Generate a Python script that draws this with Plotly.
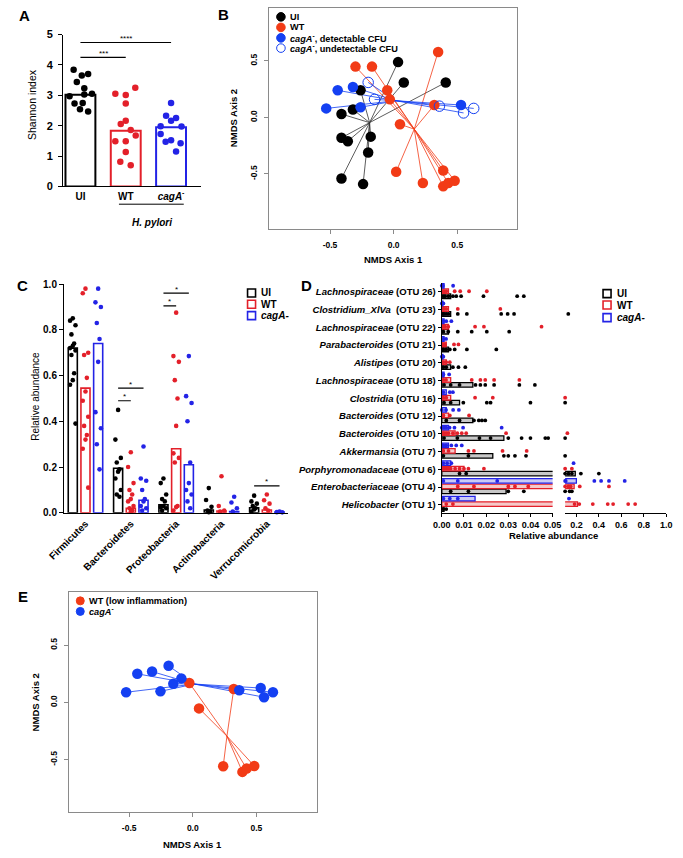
import plotly.graph_objects as go

W, H = 683, 858


def fx(px):
    return px / W


def fy(py):
    return 1 - py / H


FONT = "Liberation Sans, Arial, Helvetica, sans-serif"
K = "#000000"
RA = "#e3202a"
BA = "#2323e6"
RB = "#f23b16"
BB = "#1440f2"

# ---------------- Panel A: Shannon index ----------------
a_groups = ["UI", "WT", "cagA"]
a_ticklabels = ["UI", "WT", "<i>cagA</i><sup>-</sup>"]
a_means = [3.02, 1.83, 1.95]
a_ui = [3.84, 3.65, 3.70, 3.44, 3.23, 2.97, 3.05, 3.03, 2.73, 2.75, 2.54, 2.47]
a_wt = [3.05, 3.01, 3.25, 2.73, 2.16, 2.06, 1.86, 1.49, 1.49, 1.68, 1.13, 0.81, 0.70]
a_cag = [2.75, 2.33, 2.25, 2.16, 1.98, 1.97, 1.73, 1.52, 1.47, 1.42, 1.15]
a_sig = [("UI", "WT", 4.25, "***"), ("UI", "cagA", 4.74, "****")]
# dot scatter within each bar (category units)
a_jit = [
    [-0.15, 0.03, 0.17, -0.08, 0.085, -0.24, 0.255, 0.085, -0.13, 0.05, -0.01, 0.17],
    [-0.23, 0.0, 0.21, 0.0, 0.0, -0.11, 0.11, -0.23, 0.0, 0.22, 0.0, -0.12, 0.11],
    [0.0, -0.11, 0.11, 0.0, -0.23, 0.23, -0.23, 0.0, -0.12, 0.21, 0.11],
]

# ---------------- Panel B: NMDS (all groups) ----------------
b_ui_x = [0.035, 0.08, 0.41, -0.26, -0.41, -0.32, -0.41, -0.36, -0.18, -0.20, -0.41, -0.24]
b_ui_y = [0.49, 0.31, 0.31, 0.24, 0.03, 0.07, -0.18, -0.21, -0.17, -0.31, -0.54, -0.59]
b_wt_x = [0.35, -0.30, -0.17, -0.05, -0.03, 0.05, 0.32, 0.02, 0.23, 0.39, 0.39, 0.43, 0.48]
b_wt_y = [0.58, 0.45, 0.45, 0.24, 0.16, -0.06, 0.11, -0.48, -0.58, -0.47, -0.61, -0.58, -0.56]
b_cd_x = [-0.44, -0.32, -0.53, -0.26, 0.53]
b_cd_y = [0.24, 0.27, 0.08, 0.09, 0.11]
b_cu_x = [-0.20, -0.15, 0.36, 0.55, 0.63]
b_cu_y = [0.31, 0.16, 0.10, 0.04, 0.08]
nmds_ticks = [-0.5, 0.0, 0.5]
nmds_ticktext = ["-0.5", "0.0", "0.5"]

# ---------------- Panel C: phylum relative abundance ----------------
c_phyla = ["Firmicutes", "Bacteroidetes", "Proteobacteria", "Actinobacteria", "Verrucomicrobia"]
c_ui_mean = [0.72, 0.195, 0.035, 0.012, 0.022]
c_wt_mean = [0.545, 0.02, 0.28, 0.008, 0.012]
c_cag_mean = [0.74, 0.055, 0.21, 0.006, 0.003]
c_ui_pts = [
    [0.85, 0.84, 0.82, 0.78, 0.74, 0.73, 0.72, 0.71, 0.69, 0.61, 0.58, 0.56, 0.39],
    [0.45, 0.32, 0.24, 0.22, 0.19, 0.18, 0.15, 0.10, 0.08, 0.07],
    [0.15, 0.13, 0.08, 0.06, 0.05, 0.03, 0.025, 0.02, 0.01],
    [0.108, 0.056, 0.026, 0.01, 0.005, 0.003],
    [0.075, 0.05, 0.04, 0.03, 0.02, 0.015, 0.005],
]
c_wt_pts = [
    [0.98, 0.96, 0.70, 0.69, 0.59, 0.53, 0.49, 0.42, 0.38, 0.34, 0.32, 0.28, 0.11],
    [0.265, 0.20, 0.13, 0.10, 0.08, 0.06, 0.05, 0.03, 0.02, 0.01, 0.005],
    [0.875, 0.685, 0.66, 0.58, 0.50, 0.38, 0.26, 0.24, 0.22, 0.03, 0.025, 0.01],
    [0.16, 0.03, 0.01, 0.005],
    [0.08, 0.055, 0.04, 0.02, 0.01],
]
c_cag_pts = [
    [0.98, 0.92, 0.90, 0.83, 0.76, 0.66, 0.44, 0.37, 0.30, 0.19],
    [0.29, 0.15, 0.14, 0.10, 0.06, 0.05, 0.03, 0.02, 0.01],
    [0.685, 0.51, 0.48, 0.40, 0.22, 0.13, 0.10, 0.08, 0.05, 0.02],
    [0.07, 0.045, 0.02, 0.005],
    [0.005, 0.003, 0.002],
]
# (phylum index, group a, group b, height, label)
c_sig = [
    (1, "UI", "WT", 0.49, "*"),
    (1, "UI", "cagA", 0.545, "*"),
    (2, "UI", "WT", 0.905, "*"),
    (2, "UI", "cagA", 0.96, "*"),
    (4, "UI", "cagA", 0.118, "*"),
]

# ---------------- Panel D: OTU relative abundance ----------------
d_genus = ["Lachnospiraceae", "Clostridium_XlVa ", "Lachnospiraceae", "Parabacteroides",
           "Alistipes", "Lachnospiraceae", "Clostridia", "Bacteroides", "Bacteroides",
           "Akkermansia", "Porphyromonadaceae", "Enterobacteriaceae", "Helicobacter"]
d_otu = ["OTU 26", "OTU 23", "OTU 22", "OTU 21", "OTU 20", "OTU 18", "OTU 16",
         "OTU 12", "OTU 10", "OTU 7", "OTU 6", "OTU 4", "OTU 1"]
d_ui_mean = [0.004, 0.004, 0.003, 0.003, 0.004, 0.014, 0.008, 0.014, 0.028, 0.023, 0.19, 0.029, 0.001]
d_wt_mean = [0.003, 0.003, 0.003, 0.002, 0.002, 0.004, 0.004, 0.003, 0.006, 0.006, 0.010, 0.18, 0.21]
d_cag_mean = [0.001, 0.0005, 0.001, 0.001, 0.0005, 0.001, 0.002, 0.002, 0.003, 0.003, 0.004, 0.20, 0.015]
d_ui_pts = [
    [0.0007, 0.0015, 0.003, 0.005, 0.0065, 0.0087, 0.0188, 0.034, 0.037],
    [0.0005, 0.001, 0.002, 0.003, 0.0072, 0.0113, 0.0268, 0.0297, 0.0326, 0.128],
    [0.0007, 0.0029, 0.0072, 0.0135, 0.0203, 0.0304],
    [0.0007, 0.002, 0.0036, 0.0058, 0.0113, 0.0246],
    [0.0007, 0.002, 0.005, 0.0075, 0.0106],
    [0.001, 0.004, 0.008, 0.0152, 0.0174, 0.0196, 0.0236, 0.035, 0.042],
    [0.001, 0.004, 0.0097, 0.0203, 0.022, 0.040, 0.10],
    [0.002, 0.008, 0.0145, 0.0167, 0.0181, 0.0196],
    [0.001, 0.007, 0.017, 0.022, 0.030, 0.036, 0.040, 0.0467, 0.048, 0.10],
    [0.0007, 0.012, 0.028, 0.030, 0.033, 0.038, 0.10],
    [0.008, 0.011, 0.10, 0.13, 0.16, 0.24, 0.40],
    [0.004, 0.012, 0.030, 0.037, 0.10, 0.14, 0.16],
    [0.0007, 0.002],
]
d_wt_pts = [
    [0.0005, 0.001, 0.002, 0.0058, 0.0083, 0.0123, 0.0203],
    [0.0005, 0.001, 0.002, 0.0072, 0.0264],
    [0.0007, 0.0015, 0.0029, 0.015, 0.019, 0.045],
    [0.0007, 0.0014, 0.0055, 0.0075],
    [0.0007, 0.002, 0.0036],
    [0.0007, 0.0019, 0.0135, 0.0174, 0.0196, 0.0236, 0.035],
    [0.0007, 0.002, 0.015, 0.023, 0.10],
    [0.0007, 0.0036, 0.0123],
    [0.0005, 0.001, 0.002, 0.003, 0.005, 0.007, 0.009, 0.011, 0.029, 0.12],
    [0.0007, 0.003, 0.012, 0.0145, 0.0274, 0.0383],
    [0.0005, 0.001, 0.002, 0.003, 0.004, 0.006, 0.008, 0.010, 0.012, 0.019, 0.10, 0.16],
    [0.0072, 0.0145, 0.030, 0.033, 0.039, 0.10, 0.13, 0.15, 0.23, 0.49],
    [0.002, 0.005, 0.184, 0.226, 0.346, 0.479, 0.527, 0.661, 0.723],
]
d_cag_pts = [
    [0.0, 0.0005, 0.0051],
    [0.0, 0.0007],
    [0.0007, 0.002, 0.0043],
    [0.0007, 0.0019],
    [0.0, 0.0007],
    [0.0007, 0.0033],
    [0.0007, 0.0036, 0.005],
    [0.0, 0.0019, 0.0051, 0.0077],
    [0.0, 0.001, 0.002, 0.0035, 0.0057, 0.0096, 0.027],
    [0.0007, 0.002, 0.0043, 0.0065, 0.009],
    [0.0007, 0.0024, 0.0043, 0.175],
    [0.0007, 0.0072, 0.025, 0.10, 0.105, 0.36, 0.42, 0.49, 0.63],
    [0.0007, 0.0036, 0.0072, 0.134],
]
d_left_ticks = [0.0, 0.01, 0.02, 0.03, 0.04, 0.05]
d_right_ticks = [0.2, 0.4, 0.6, 0.8, 1.0]

# ---------------- Panel E: NMDS (WT low inflammation vs cagA-) ----------------
e_wt_x = [-0.027, 0.322, 0.049, 0.239, 0.39, 0.423, 0.483]
e_wt_y = [0.17, 0.117, -0.052, -0.558, -0.607, -0.578, -0.555]
e_cag_x = [-0.524, -0.436, -0.32, -0.19, -0.254, -0.153, -0.09, 0.365, 0.534, 0.56, 0.63]
e_cag_y = [0.089, 0.25, 0.27, 0.32, 0.097, 0.164, 0.21, 0.106, 0.126, 0.046, 0.089]

fig = go.Figure()

# ======== Panel A ========
a_cols = [K, RA, BA]
fig.add_trace(go.Bar(x=list(range(3)), y=a_means, width=0.66,
                     marker=dict(color="white", line=dict(color=a_cols, width=2)),
                     xaxis="x", yaxis="y"))
for gi, vals in enumerate([a_ui, a_wt, a_cag]):
    fig.add_trace(go.Scatter(x=[gi + j for j in a_jit[gi]], y=vals, mode="markers",
                             marker=dict(size=6.5, color=a_cols[gi]),
                             xaxis="x", yaxis="y", cliponaxis=False))
annotations = []
for g0, g1, yv, lab in a_sig:
    i0, i1 = a_groups.index(g0), a_groups.index(g1)
    fig.add_trace(go.Scatter(x=[i0, i1], y=[yv, yv], mode="lines",
                             line=dict(color=K, width=1.2), xaxis="x", yaxis="y"))
    annotations.append(dict(x=(i0 + i1) / 2, y=yv, xref="x", yref="y", text=lab,
                            showarrow=False, yshift=4, font=dict(size=8, family=FONT, color=K)))


def txt(x, y, s, size=10, xanchor="center", yanchor="middle", angle=0):
    return dict(x=fx(x), y=fy(y), xref="paper", yref="paper", text=s, showarrow=False,
                xanchor=xanchor, yanchor=yanchor, textangle=angle,
                font=dict(family=FONT, size=size, color=K))


shapes = []
shapes.append(dict(type="line", xref="x", yref="paper", x0=0.85, x1=2.28,
                   y0=fy(201), y1=fy(201), line=dict(color=K, width=1)))
annotations.append(dict(x=1.57, y=fy(212), xref="x", yref="paper",
                        text="<b><i>H. pylori</i></b>", showarrow=False,
                        font=dict(family=FONT, size=10, color=K)))
annotations.append(txt(16, 100, "Shannon index", size=10.5, angle=-90))

# ======== Panel B ========


def spider(xs, ys, color, xa, ya, width=0.8):
    cx = sum(xs) / len(xs)
    cy = sum(ys) / len(ys)
    lx, ly = [], []
    for x, y in zip(xs, ys):
        lx += [cx, x, None]
        ly += [cy, y, None]
    return go.Scatter(x=lx, y=ly, mode="lines", line=dict(color=color, width=width),
                      xaxis=xa, yaxis=ya)


fig.add_trace(spider(b_ui_x, b_ui_y, "#333333", "x2", "y2"))
fig.add_trace(spider(b_wt_x, b_wt_y, RB, "x2", "y2"))
fig.add_trace(spider(b_cd_x + b_cu_x, b_cd_y + b_cu_y, BB, "x2", "y2"))
fig.add_trace(go.Scatter(x=b_ui_x, y=b_ui_y, mode="markers", marker=dict(size=10.5, color=K),
                         xaxis="x2", yaxis="y2"))
fig.add_trace(go.Scatter(x=b_wt_x, y=b_wt_y, mode="markers", marker=dict(size=10.5, color=RB),
                         xaxis="x2", yaxis="y2"))
fig.add_trace(go.Scatter(x=b_cd_x, y=b_cd_y, mode="markers", marker=dict(size=10.5, color=BB),
                         xaxis="x2", yaxis="y2"))
fig.add_trace(go.Scatter(x=b_cu_x, y=b_cu_y, mode="markers",
                         marker=dict(size=10.5, color=BB, symbol="circle-open", line=dict(width=1)),
                         xaxis="x2", yaxis="y2"))


def circ(cx, cy, r, color, filled=True):
    return dict(type="circle", xref="paper", yref="paper", xsizemode="pixel", ysizemode="pixel",
                xanchor=fx(cx), yanchor=fy(cy), x0=-r, x1=r, y0=-r, y1=r,
                fillcolor=color if filled else "rgba(0,0,0,0)", line=dict(color=color, width=1))


def sq(cx, cy, r, color):
    return dict(type="rect", xref="paper", yref="paper", xsizemode="pixel", ysizemode="pixel",
                xanchor=fx(cx), yanchor=fy(cy), x0=-r, x1=r, y0=-r, y1=r,
                fillcolor="white", line=dict(color=color, width=1.6))


b_leg = [("<b>UI</b>", K, True), ("<b>WT</b>", RB, True),
         ("<b><i>cagA</i><sup>-</sup>, detectable CFU</b>", BB, True),
         ("<b><i>cagA</i><sup>-</sup>, undetectable CFU</b>", BB, False)]
for (s, c, f), yy in zip(b_leg, [11, 21.7, 32.3, 42.7]):
    shapes.append(circ(275, yy, 4.3, c, f))
    annotations.append(txt(282.5, yy, s, size=9.2, xanchor="left"))
annotations.append(txt(392, 257, "<b>NMDS Axis 1</b>", size=9.5))
annotations.append(txt(226, 114, "<b>NMDS Axis 2</b>", size=9.5, angle=-90))

# ======== Panel C ========
c_off = {"UI": -0.28, "WT": 0.0, "cagA": 0.28}
c_cols = {"UI": K, "WT": RA, "cagA": BA}
c_jit = [0.0, -0.06, 0.06, -0.03, 0.03]
for g, means, pts in [("UI", c_ui_mean, c_ui_pts), ("WT", c_wt_mean, c_wt_pts),
                      ("cagA", c_cag_mean, c_cag_pts)]:
    fig.add_trace(go.Bar(x=[i + c_off[g] for i in range(len(c_phyla))], y=means, width=0.2,
                         marker=dict(color="white", line=dict(color=c_cols[g], width=1.6)),
                         xaxis="x3", yaxis="y3"))
for g, pts in [("UI", c_ui_pts), ("WT", c_wt_pts), ("cagA", c_cag_pts)]:
    xs, ys = [], []
    for i, vals in enumerate(pts):
        for k, v in enumerate(vals):
            xs.append(i + c_off[g] + c_jit[k % len(c_jit)])
            ys.append(v)
    fig.add_trace(go.Scatter(x=xs, y=ys, mode="markers", marker=dict(size=4.6, color=c_cols[g]),
                             xaxis="x3", yaxis="y3", cliponaxis=False))
for pi, g0, g1, yv, lab in c_sig:
    x0, x1 = pi + c_off[g0], pi + c_off[g1]
    fig.add_trace(go.Scatter(x=[x0, x1], y=[yv, yv], mode="lines", line=dict(color=K, width=1.2),
                             xaxis="x3", yaxis="y3"))
    annotations.append(dict(x=(x0 + x1) / 2, y=yv, xref="x3", yref="y3", text=lab,
                            showarrow=False, yshift=4, font=dict(size=8, family=FONT, color=K)))
annotations.append(txt(20, 396, "Relative abundance", size=10, angle=-90))
for (s, c), yy in zip([("<b>UI</b>", K), ("<b>WT</b>", RA), ("<b><i>cagA-</i></b>", BA)],
                      [291, 302.5, 314]):
    shapes.append(sq(244.5, yy, 4, c))
    annotations.append(txt(252.5, yy, s, size=10, xanchor="left"))

# ======== Panel D ========
n_rows = len(d_otu)
d_pos = [n_rows - 1 - r for r in range(n_rows)]
d_groups = [("UI", d_ui_mean, d_ui_pts, K, "#c8c8c8", -0.24),
            ("WT", d_wt_mean, d_wt_pts, RA, "#f6c9c9", 0.04),
            ("cagA", d_cag_mean, d_cag_pts, BA, "#cacaf6", 0.35)]
for g, means, pts, col, fill, off in d_groups:
    for xa in ["x4", "x5"]:
        fig.add_trace(go.Bar(x=means, y=[p + off for p in d_pos], orientation="h", width=0.26,
                             marker=dict(color=fill, line=dict(color=col, width=1.3)),
                             xaxis=xa, yaxis="y4"))
for g, means, pts, col, fill, off in d_groups:
    lx, ly, rx, ry = [], [], [], []
    for r, vals in enumerate(pts):
        for v in vals:
            if v <= 0.05:
                lx.append(v)
                ly.append(d_pos[r] + off)
            else:
                rx.append(v)
                ry.append(d_pos[r] + off)
    fig.add_trace(go.Scatter(x=lx, y=ly, mode="markers", marker=dict(size=3.8, color=col),
                             xaxis="x4", yaxis="y4", cliponaxis=False))
    fig.add_trace(go.Scatter(x=rx, y=ry, mode="markers", marker=dict(size=3.8, color=col),
                             xaxis="x5", yaxis="y4", cliponaxis=False))
annotations.append(txt(558, 537, "<b>Relative abundance</b>", size=9.5))
for (s, c), yy in zip([("<b>UI</b>", K), ("<b>WT</b>", RA), ("<b><i>cagA-</i></b>", BA)],
                      [291.7, 303.3, 316]):
    shapes.append(sq(613.5, yy, 4, c))
    annotations.append(txt(621.5, yy, s, size=10, xanchor="left"))

# ======== Panel E ========
fig.add_trace(spider(e_wt_x, e_wt_y, RB, "x6", "y5"))
fig.add_trace(spider(e_cag_x, e_cag_y, BB, "x6", "y5"))
fig.add_trace(go.Scatter(x=e_wt_x, y=e_wt_y, mode="markers", marker=dict(size=10.5, color=RB),
                         xaxis="x6", yaxis="y5"))
fig.add_trace(go.Scatter(x=e_cag_x, y=e_cag_y, mode="markers", marker=dict(size=10.5, color=BB),
                         xaxis="x6", yaxis="y5"))
for (s, c), yy in zip([("<b>WT (low inflammation)</b>", RB),
                       ("<b><i>cagA</i><sup>-</sup></b>", BB)], [603.3, 614]):
    shapes.append(circ(66.7, yy, 4, c))
    annotations.append(txt(74, yy, s, size=9.2, xanchor="left"))
annotations.append(txt(183.5, 850, "<b>NMDS Axis 1</b>", size=9.5))
annotations.append(txt(20, 706, "<b>NMDS Axis 2</b>", size=9.5, angle=-90))

# panel letters
for s, x, y in [("A", 9, 10), ("B", 215, 9), ("C", 7, 283), ("D", 302, 283), ("E", 7, 599)]:
    annotations.append(txt(x, y, "<b>%s</b>" % s, size=15))


def bold(lst):
    return ["<b>%s</b>" % s for s in lst]


tf = dict(family=FONT, size=10, color=K)
common = dict(showgrid=False, zeroline=False, fixedrange=True)
gl = dict(showline=True, linecolor=K, linewidth=1.4, tickcolor=K, tickwidth=1.4)
rb = dict(showline=True, mirror=True, linecolor="#8a8a8a", linewidth=1, ticks="outside",
          ticklen=4, tickcolor="#8a8a8a", tickwidth=1,
          tickfont=dict(family=FONT, size=8.5, color=K))

layout = dict(
    width=W, height=H, margin=dict(l=0, r=0, t=0, b=0),
    paper_bgcolor="white", plot_bgcolor="white", showlegend=False, barmode="overlay",
    font=dict(family=FONT, color=K),
    # A
    xaxis=dict(domain=[fx(49), fx(192)], anchor="y", range=[-0.38, 2.66],
               tickvals=[0, 1, 2], ticktext=bold(a_ticklabels), ticks="", tickfont=tf, **gl, **common),
    yaxis=dict(domain=[fy(183), fy(29)], anchor="x", range=[0, 5], tickvals=[0, 1, 2, 3, 4, 5],
               ticktext=bold([str(v) for v in range(6)]), ticks="outside", ticklen=4,
               ticklabelstandoff=3, tickfont=dict(family=FONT, size=11, color=K), **gl, **common),
    # B
    xaxis2=dict(domain=[fx(263), fx(520)], anchor="y2", range=[-0.977, 0.97],
                tickvals=nmds_ticks, ticktext=bold(nmds_ticktext), ticklabelstandoff=4, **rb, **common),
    yaxis2=dict(domain=[fy(226), fy(2)], anchor="x2", range=[-0.986, 0.969],
                tickvals=nmds_ticks, ticktext=bold(nmds_ticktext), tickangle=-90,
                ticklabelstandoff=4, **rb, **common),
    # C
    xaxis3=dict(domain=[fx(50), fx(282)], anchor="y3", range=[-0.47, 4.46],
                tickvals=list(range(5)), ticktext=bold(c_phyla), tickangle=-45, ticks="",
                tickfont=tf, **gl, **common),
    yaxis3=dict(domain=[fy(514), fy(282)], anchor="x3", range=[0, 1],
                tickvals=[0, 0.2, 0.4, 0.6, 0.8, 1.0],
                ticktext=bold(["0.0", "0.2", "0.4", "0.6", "0.8", "1.0"]), ticks="outside",
                ticklen=4, tickfont=tf, **gl, **common),
    # D
    xaxis4=dict(domain=[fx(442), fx(557)], anchor="y4", range=[0, 0.05],
                tickvals=d_left_ticks, ticktext=bold(["%.2f" % v for v in d_left_ticks]),
                ticks="outside", ticklen=3, tickfont=dict(family=FONT, size=9, color=K),
                **gl, **common),
    xaxis5=dict(domain=[fx(570), fx(675)], anchor="y4", range=[0.1, 1.0],
                tickvals=d_right_ticks, ticktext=bold(["%.1f" % v for v in d_right_ticks]),
                ticks="outside", ticklen=3, tickfont=dict(family=FONT, size=9, color=K),
                ticklabeloverflow="allow", **gl, **common),
    yaxis4=dict(domain=[fy(514), fy(281)], anchor="x4", range=[-0.45, 12.5],
                tickvals=d_pos,
                ticktext=["<b><i>%s</i> (%s)</b>" % (g, o) for g, o in zip(d_genus, d_otu)],
                ticks="outside", ticklen=3, tickfont=dict(family=FONT, size=9.5, color=K),
                **gl, **common),
    # E
    xaxis6=dict(domain=[fx(55), fx(312)], anchor="y5", range=[-0.973, 0.973],
                tickvals=nmds_ticks, ticktext=bold(nmds_ticktext), ticklabelstandoff=4, **rb, **common),
    yaxis5=dict(domain=[fy(817.7), fy(594)], anchor="x6", range=[-0.96, 0.968],
                tickvals=nmds_ticks, ticktext=bold(nmds_ticktext), tickangle=-90,
                ticklabelstandoff=4, **rb, **common),
    annotations=annotations,
    shapes=shapes,
)
fig.update_layout(**layout)
fig.write_html("out.html", config={"displayModeBar": False},
               post_script="document.body.style.margin='0px';document.body.style.overflow='hidden';")
